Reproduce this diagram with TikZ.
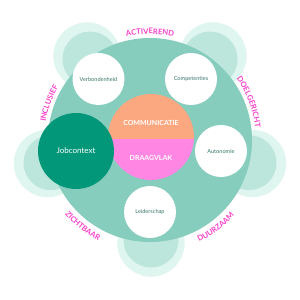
\documentclass[tikz,border=0pt]{standalone}
\usepackage{fontspec}
\setmainfont{Lato}
\newfontfamily\lblfont[LetterSpace=8]{Lato}
\usetikzlibrary{decorations.text}
\definecolor{mainteal}{HTML}{86CDBE}
\definecolor{petalmint}{HTML}{BCE6DC}
\definecolor{petalpale}{HTML}{DFF5EF}
\definecolor{salmonc}{HTML}{FBA881}
\definecolor{pinkc}{HTML}{FF86E2}
\definecolor{jobgreen}{HTML}{03977A}
\definecolor{lblpink}{HTML}{F83FCB}
\definecolor{bubtext}{HTML}{3A776B}
\begin{document}
\begin{tikzpicture}[x=1pt,y=1pt,
  petalout/.style={circle,fill=petalpale,draw=white,line width=0.6pt,minimum size=68pt,inner sep=0pt,outer sep=0pt},
  petalin/.style={circle,fill=petalmint,minimum size=55pt,inner sep=0pt,outer sep=0pt},
  whitebub/.style={circle,fill=white,minimum size=52pt,inner sep=0pt,outer sep=0pt,text=bubtext,font=\fontsize{5.6}{6}\selectfont},
  coretext/.style={text=white,font=\fontsize{7}{8}\selectfont\bfseries,inner sep=0pt},
  lbltop/.style={decorate,decoration={text along path,text align=center,text color=lblpink,
    text={|\fontsize{7.6}{8}\selectfont\lblfont\bfseries|#1}}},
  lblbot/.style={decorate,decoration={text along path,text align=center,text color=lblpink,
    text={|\fontsize{7.6}{8}\selectfont\lblfont\bfseries|#1}}}
]
\useasboundingbox (0,0) rectangle (300,300);
\fill[white] (0,0) rectangle (300,300);
\coordinate (C) at (150,160);
% petals
\node[petalout] (p1o) at (87,244) {};
\node[petalout] (p2o) at (213,244) {};
\node[petalout] (p3o) at (252.5,136.5) {};
\node[petalout] (p4o) at (47.5,136.5) {};
\node[petalout] (p5o) at (151,57) {};
\node[petalin] (p1i) at (90,241) {};
\node[petalin] (p2i) at (210,241) {};
\node[petalin] (p3i) at (249,137.3) {};
\node[petalin] (p4i) at (51,137.3) {};
\node[petalin] (p5i) at (151,60) {};
% main circle
\node[circle,fill=mainteal,minimum size=204pt,inner sep=0pt] (main) at (C) {};
% white bubbles
\node[whitebub] (verb) at (98.5,221) {Verbondenheid};
\node[whitebub] (comp) at (191,221) {Competenties};
\node[whitebub] (auto) at (221,149) {Autonomie};
\node[whitebub] (leid) at (150,88) {Leiderschap};
% core circle
\node[circle,minimum size=86pt,inner sep=0pt] (core) at (151,163) {};
\begin{scope}
  \clip (core.center) circle (43);
  \fill[salmonc] (105,161) rectangle (197,209);
  \fill[pinkc] (105,161) rectangle (197,117);
\end{scope}
\node[coretext] (comm) at (151,177) {COMMUNICATIE};
\node[coretext] (draag) at (151,142) {DRAAGVLAK};
% job context
\node[circle,fill=jobgreen,minimum size=76pt,inner sep=0pt,text=white,font=\fontsize{8}{9}\selectfont] (job) at (76,149) {Jobcontext};
% labels
\path[lbltop=ACTIVEREND] ([shift={(C)}]125:106) arc[start angle=125,end angle=55,radius=106];
\path[lbltop=DOELGERICHT] ([shift={(C)}]56:106) arc[start angle=56,end angle=-14,radius=106];
\path[lbltop=INCLUSIEF] ([shift={(C)}]195:106) arc[start angle=195,end angle=125,radius=106];
\path[lblbot=ZICHTBAAR] ([shift={(C)}]197:113) arc[start angle=197,end angle=267,radius=113];
\path[lblbot=DUURZAAM] ([shift={(C)}]272:113) arc[start angle=272,end angle=342,radius=113];
\end{tikzpicture}
\end{document}
